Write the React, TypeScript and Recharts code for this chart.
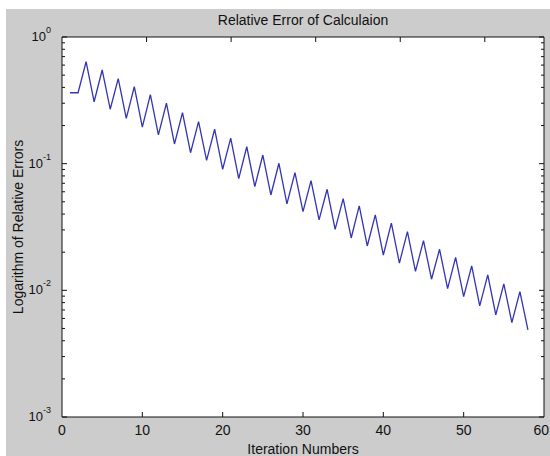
import { LineChart, Line, XAxis, YAxis } from "recharts";

// iteration number -> relative error
const iterations = [
  1, 2, 3, 4, 5, 6, 7, 8, 9, 10, 11, 12, 13, 14, 15, 16, 17, 18, 19, 20, 21, 22, 23, 24, 25, 26, 27, 28, 29,
  30, 31, 32, 33, 34, 35, 36, 37, 38, 39, 40, 41, 42, 43, 44, 45, 46, 47, 48, 49, 50, 51, 52, 53, 54, 55, 56,
  57, 58,
];
const relErrors = [
  0.363, 0.363, 0.638, 0.308, 0.549, 0.269, 0.469, 0.228, 0.405, 0.194, 0.351, 0.169, 0.3, 0.143, 0.253,
  0.122, 0.215, 0.106, 0.187, 0.0903, 0.159, 0.0762, 0.136, 0.0659, 0.117, 0.0566, 0.1007, 0.0481, 0.0849,
  0.0418, 0.0734, 0.036, 0.0628, 0.0303, 0.053, 0.0259, 0.0464, 0.0224, 0.0394, 0.019, 0.0339, 0.0164,
  0.0291, 0.0141, 0.0247, 0.01224, 0.0211, 0.01031, 0.0182, 0.00891, 0.0156, 0.00753, 0.01323, 0.0064,
  0.01124, 0.00556, 0.00977, 0.00487,
];

const xTicks = [0, 10, 20, 30, 40, 50, 60];
const yTicks = [
  0.001, 0.002, 0.003, 0.004, 0.005, 0.006, 0.007, 0.008, 0.009,
  0.01, 0.02, 0.03, 0.04, 0.05, 0.06, 0.07, 0.08, 0.09,
  0.1, 0.2, 0.3, 0.4, 0.5, 0.6, 0.7, 0.8, 0.9, 1,
];

const data = iterations.map((it, i) => ({ it, err: relErrors[i] }));

const FONT = "'Liberation Sans', Arial, sans-serif";
const INK = "#111";
const W = 550;
const H = 456;
const PLOT = { left: 62, top: 37, right: 544, bottom: 417 };

function isMajor(v: number) {
  const l = Math.log10(v);
  return Math.abs(l - Math.round(l)) < 1e-6;
}

function BottomTick({ x, y, payload }: any) {
  const v = payload.value;
  // last label would run past the figure edge, keep it inside
  const last = v === 60;
  return (
    <g>
      {v > 0 && v < 60 && <line x1={x} y1={y} x2={x} y2={y - 5} stroke={INK} />}
      <text
        x={last ? W - 1 : x}
        y={y + 18}
        textAnchor={last ? "end" : "middle"}
        fontSize={14}
        fontFamily={FONT}
        fill={INK}
      >
        {v}
      </text>
    </g>
  );
}

function TopTick({ x, y, payload }: any) {
  const v = payload.value;
  if (v <= 0 || v >= 60) return null;
  return <line x1={x} y1={y} x2={x} y2={y + 5} stroke={INK} />;
}

function LeftTick({ x, y, payload }: any) {
  const v = payload.value;
  const major = isMajor(v);
  return (
    <g>
      <line x1={x} y1={y} x2={x + (major ? 5 : 3)} y2={y} stroke={INK} />
      {major && (
        <text x={51} y={y + 4} textAnchor="end" fontFamily={FONT} fill={INK}>
          <tspan fontSize={13}>10</tspan>
          <tspan fontSize={9} dy={-8}>
            {String(Math.round(Math.log10(v)))}
          </tspan>
        </text>
      )}
    </g>
  );
}

function RightTick({ x, y, payload }: any) {
  const major = isMajor(payload.value);
  return <line x1={x} y1={y} x2={x - (major ? 5 : 3)} y2={y} stroke={INK} />;
}

export default function App() {
  return (
    <div style={{ position: "absolute", left: 0, top: 0, width: W, height: H, background: "#fff" }}>
      <div style={{ position: "absolute", left: 6, top: 9, right: 0, bottom: 0, background: "#cccccc" }} />
      <div
        style={{
          position: "absolute",
          left: PLOT.left,
          top: PLOT.top,
          width: PLOT.right - PLOT.left,
          height: PLOT.bottom - PLOT.top,
          background: "#fff",
        }}
      />
      <div
        style={{
          position: "absolute",
          left: 303,
          top: 20,
          transform: "translate(-50%, -50%)",
          fontFamily: FONT,
          fontSize: 14,
          color: INK,
          whiteSpace: "nowrap",
        }}
      >
        Relative Error of Calculaion
      </div>
      <div
        style={{
          position: "absolute",
          left: 303,
          top: 449,
          transform: "translate(-50%, -50%)",
          fontFamily: FONT,
          fontSize: 14,
          color: INK,
          whiteSpace: "nowrap",
        }}
      >
        Iteration Numbers
      </div>
      <div
        style={{
          position: "absolute",
          left: 18,
          top: 227,
          transform: "translate(-50%, -50%) rotate(-90deg)",
          fontFamily: FONT,
          fontSize: 14,
          color: INK,
          whiteSpace: "nowrap",
        }}
      >
        Logarithm of Relative Errors
      </div>
      <div style={{ position: "absolute", left: 0, top: 0 }}>
        <LineChart width={W} height={H} data={data} margin={{ top: 0, right: 0, bottom: 0, left: 0 }}>
          <XAxis
            dataKey="it"
            type="number"
            domain={[0, 60]}
            ticks={xTicks}
            height={H - PLOT.bottom}
            tickSize={0}
            tickMargin={0}
            tickLine={false}
            axisLine={{ stroke: INK }}
            tick={<BottomTick />}
            interval={0}
          />
          <XAxis
            xAxisId="top"
            orientation="top"
            type="number"
            domain={[0, 60]}
            ticks={xTicks}
            height={PLOT.top}
            tickSize={0}
            tickMargin={0}
            tickLine={false}
            axisLine={{ stroke: INK }}
            tick={<TopTick />}
            interval={0}
          />
          <YAxis
            type="number"
            scale="log"
            domain={[0.001, 1]}
            ticks={yTicks}
            width={PLOT.left}
            tickSize={0}
            tickMargin={0}
            tickLine={false}
            axisLine={{ stroke: INK }}
            tick={<LeftTick />}
            interval={0}
            allowDataOverflow
          />
          <YAxis
            yAxisId="right"
            orientation="right"
            type="number"
            scale="log"
            domain={[0.001, 1]}
            ticks={yTicks}
            width={W - PLOT.right}
            tickSize={0}
            tickMargin={0}
            tickLine={false}
            axisLine={{ stroke: INK }}
            tick={<RightTick />}
            interval={0}
            allowDataOverflow
          />
          <Line
            type="linear"
            dataKey="err"
            stroke="#3333b3"
            strokeWidth={1.3}
            dot={false}
            isAnimationActive={false}
          />
        </LineChart>
      </div>
    </div>
  );
}
